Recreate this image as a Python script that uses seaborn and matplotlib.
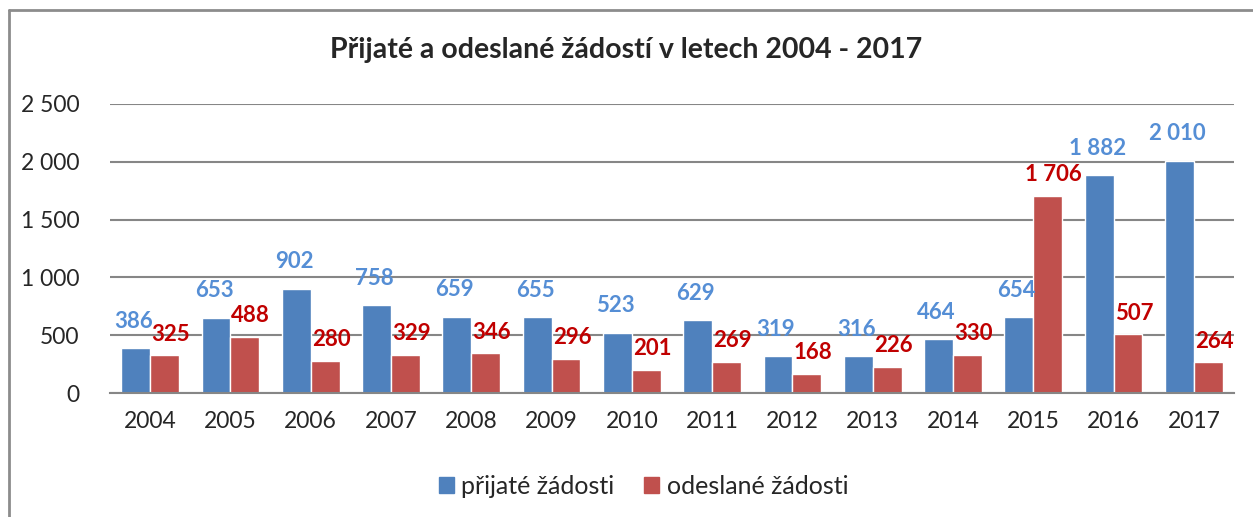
import pandas as pd
import seaborn as sns
import matplotlib.pyplot as plt
from matplotlib.lines import Line2D

# data
years = ["2004", "2005", "2006", "2007", "2008", "2009", "2010",
         "2011", "2012", "2013", "2014", "2015", "2016", "2017"]
received = [386, 653, 902, 758, 659, 655, 523, 629, 319, 316, 464, 654, 1882, 2010]
sent = [325, 488, 280, 329, 346, 296, 201, 269, 168, 226, 330, 1706, 507, 264]
series_names = ["přijaté žádosti", "odeslané žádosti"]

df = pd.DataFrame({
    "year": years * 2,
    "value": received + sent,
    "series": [series_names[0]] * len(years) + [series_names[1]] * len(years),
})

sns.set_style("white")
plt.rcParams["font.family"] = ["Lato", "DejaVu Sans"]

fig = plt.figure(figsize=(12.53, 5.17), dpi=100)
ax = fig.add_axes([110 / 1253, 1 - 393 / 517, (1234 - 110) / 1253, (393 - 104) / 517])

bar_colors = ["#4F81BD", "#C0504D"]
sns.barplot(data=df, x="year", y="value", hue="series", palette=bar_colors,
            width=0.72, saturation=1, ax=ax, legend=False)

ax.set_ylim(0, 2500)
ax.set_xlim(-0.5, len(years) - 0.5)
ax.set_yticks(range(0, 2501, 500))
ax.set_yticklabels([f"{v:,}".replace(",", " ") for v in range(0, 2501, 500)])
ax.yaxis.grid(True, color="#868686", linewidth=1.5)
ax.set_axisbelow(True)
for s in ["top", "right", "left"]:
    ax.spines[s].set_visible(False)
ax.spines["bottom"].set_color("#868686")
ax.spines["bottom"].set_linewidth(1.5)
ax.set_xlabel("")
ax.set_ylabel("")
ax.tick_params(axis="y", labelsize=16.5, pad=22, length=0)
ax.tick_params(axis="x", labelsize=16.5, pad=13, length=0)

def fmt(v):
    return f"{v:,}".replace(",", " ")

label_colors = ["#558ED5", "#C00000"]
for i, cont in enumerate(ax.containers):
    for bar, v in zip(cont, [received, sent][i]):
        cx = bar.get_x() + bar.get_width() / 2
        dx = -2 if i == 0 else 6
        ax.annotate(fmt(v), (cx, bar.get_height()), xytext=(dx, 27 if i == 0 else 21),
                    textcoords="offset pixels", ha="center", va="center",
                    fontsize=16, fontweight="bold", color=label_colors[i])

fig.text(0.5, 1 - 50 / 517, "Přijaté a odeslané žádostí v letech 2004 - 2017",
         ha="center", va="center", fontsize=20.5, fontweight="bold")

handles = [plt.Rectangle((0, 0), 1, 1, color=c) for c in bar_colors]
fig.legend(handles, series_names, loc="center", bbox_to_anchor=(0.5135, 1 - 486 / 517),
           ncol=2, frameon=False, fontsize=18, handlelength=0.6, handleheight=0.6,
           columnspacing=1.2, handletextpad=0.3)

# outer chart border
border = "#8c8c8c"
fig.add_artist(Line2D([9 / 1253, 9 / 1253], [0, 1 - 10 / 517], color=border, linewidth=2))
fig.add_artist(Line2D([9 / 1253, 1], [1 - 10 / 517, 1 - 10 / 517], color=border, linewidth=2))

fig.savefig("out.png", dpi=100)
